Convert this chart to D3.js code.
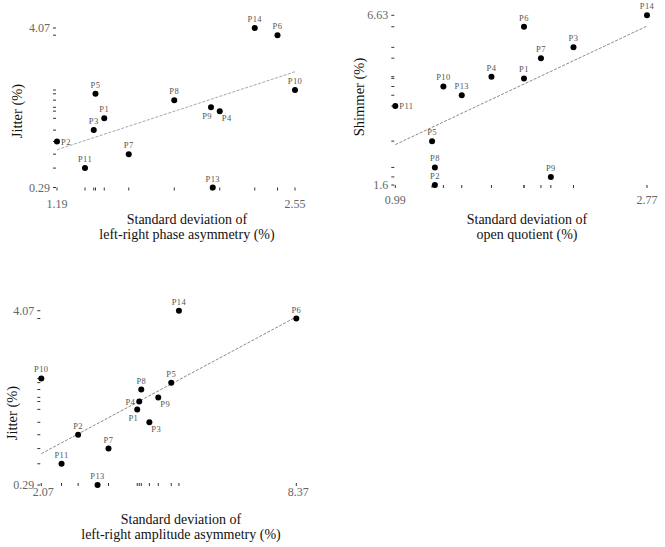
<!DOCTYPE html>
<html>
<head>
<meta charset="utf-8">
<script src="https://cdn.jsdelivr.net/npm/d3@7"></script>
<style>
  body { margin: 0; background: #fff; }
  svg { display: block; }
</style>
</head>
<body>
<svg width="665" height="547"></svg>
<script>
// Participants (P12 absent)
const participants = ["P1", "P2", "P3", "P4", "P5", "P6", "P7", "P8", "P9", "P10", "P11", "P13", "P14"];

// Measures per participant
const jitter  = [1.93, 1.38, 1.65, 2.10, 2.51, 3.90, 1.08, 2.36, 2.19, 2.60, 0.75, 0.29, 4.07];
const shimmer = [4.76, 1.60, 5.68, 4.81, 2.90, 6.29, 5.36, 2.12, 1.84, 4.52, 3.94, 4.26, 6.63];
const phaseSD = [1.46, 1.19, 1.40, 2.12, 1.41, 2.45, 1.60, 1.86, 2.07, 2.55, 1.35, 2.08, 2.32];
const oqSD    = [1.90, 1.27, 2.25, 1.67, 1.25, 1.90, 2.02, 1.27, 2.09, 1.33, 0.99, 1.46, 2.77];
const ampSD   = [4.44, 2.98, 4.74, 4.49, 5.28, 8.37, 3.73, 4.54, 4.96, 2.07, 2.57, 3.46, 5.47];

// Tick labels (only min and max are shown)
const xTicks1 = ["1.19", "2.55"];
const yTicks1 = ["0.29", "4.07"];
const xTicks2 = ["0.99", "2.77"];
const yTicks2 = ["1.6", "6.63"];
const xTicks3 = ["2.07", "8.37"];
const yTicks3 = ["0.29", "4.07"];

const svg = d3.select("svg");
const serif = "'Liberation Serif', 'Times New Roman', serif";

// one scatter panel
function panel(opt) {
    const pts = participants.map((p, i) => ({ id: p, x: opt.xs[i], y: opt.ys[i] }));
    const x = d3.scaleLinear().domain(d3.extent(opt.xs)).range(opt.xr);
    const y = d3.scaleLinear().domain(d3.extent(opt.ys)).range(opt.yr);
    const g = svg.append("g");

    // rug marks on the y side
    g.selectAll(".yrug").data(pts).join("line")
        .attr("x1", opt.xr[0] - 4).attr("x2", opt.xr[0] - 1)
        .attr("y1", d => y(d.y)).attr("y2", d => y(d.y))
        .attr("stroke", "#333").attr("stroke-width", 1);
    // rug marks on the x side
    g.selectAll(".xrug").data(pts).join("line")
        .attr("x1", d => x(d.x)).attr("x2", d => x(d.x))
        .attr("y1", opt.yr[0] + opt.rugOff).attr("y2", opt.yr[0] + opt.rugOff + 3)
        .attr("stroke", "#333").attr("stroke-width", 1);

    // least squares line
    const mx = d3.mean(opt.xs), my = d3.mean(opt.ys);
    const b = d3.sum(opt.xs, (v, i) => (v - mx) * (opt.ys[i] - my)) / d3.sum(opt.xs, v => (v - mx) ** 2);
    const a = my - b * mx;
    const [x0, x1] = x.domain();
    g.append("line")
        .attr("x1", x(x0)).attr("y1", y(a + b * x0))
        .attr("x2", x(x1)).attr("y2", y(a + b * x1))
        .attr("stroke", opt.lineColor).attr("stroke-width", 1)
        .attr("stroke-dasharray", "3,1.5");

    // points
    g.selectAll(".pt").data(pts).join("circle")
        .attr("cx", d => x(d.x)).attr("cy", d => y(d.y))
        .attr("r", 3).attr("fill", "#000");

    // point labels
    const place = opt.place || {};
    g.selectAll(".lbl").data(pts).join("text")
        .attr("font-family", serif).attr("font-size", 8.5).attr("fill", "#555")
        .attr("letter-spacing", 0.4)
        .each(function(d) {
            const t = d3.select(this), cx = x(d.x), cy = y(d.y);
            const p = place[d.id] || "t";
            if (p === "t") t.attr("x", cx).attr("y", cy - 6).attr("text-anchor", "middle");
            if (p === "r") t.attr("x", cx + 4).attr("y", cy + 3).attr("text-anchor", "start");
            if (p === "l") t.attr("x", cx - 4).attr("y", cy + 3).attr("text-anchor", "end");
            if (p === "bl") t.attr("x", cx + 1).attr("y", cy + 12).attr("text-anchor", "end");
            if (p === "br") t.attr("x", cx + 2).attr("y", cy + 10).attr("text-anchor", "start");
        })
        .text(d => d.id);

    // tick labels
    g.selectAll(".yt").data(opt.yTicks).join("text")
        .attr("x", opt.xr[0] - 7).attr("y", d => y(+d) + 4)
        .attr("text-anchor", "end")
        .attr("font-family", serif).attr("font-size", 12).attr("fill", "#666")
        .text(d => d);
    g.selectAll(".xt").data(opt.xTicks).join("text")
        .attr("x", d => x(+d) + opt.xtShift).attr("y", opt.yr[0] + opt.xtGap)
        .attr("text-anchor", "middle")
        .attr("font-family", serif).attr("font-size", 12).attr("fill", "#666")
        .text(d => d);

    // axis titles
    g.append("text")
        .attr("transform", `translate(${opt.ytPos[0]},${opt.ytPos[1]}) rotate(-90)`)
        .attr("text-anchor", "middle")
        .attr("font-family", serif).attr("font-size", 14.5).attr("fill", "#111")
        .text(opt.yTitle);
    opt.xTitle.forEach((line, i) => {
        g.append("text")
            .attr("x", opt.xtPos[0]).attr("y", opt.xtPos[1] + i * 15.5)
            .attr("text-anchor", "middle")
            .attr("font-family", serif).attr("font-size", 14).attr("fill", "#111")
            .text(line);
    });
}

panel({
    xs: phaseSD, ys: jitter, xr: [57, 295], yr: [187.5, 28],
    xTicks: xTicks1, yTicks: yTicks1, xtGap: 20, xtShift: 0, rugOff: 0, lineColor: "#a8a8a8",
    yTitle: "Jitter (%)", ytPos: [22, 111],
    xTitle: ["Standard deviation of", "left-right phase asymmetry (%)"], xtPos: [187, 223.5],
    place: { P2: "r", P9: "bl", P4: "br" }
});

panel({
    xs: oqSD, ys: shimmer, xr: [395.3, 647], yr: [185, 15.3],
    xTicks: xTicks2, yTicks: yTicks2, xtGap: 19, xtShift: 0, rugOff: 0, lineColor: "#8a8a8a",
    yTitle: "Shimmer (%)", ytPos: [364, 97],
    xTitle: ["Standard deviation of", "open quotient (%)"], xtPos: [527, 223.5],
    place: { P11: "r" }
});

panel({
    xs: ampSD, ys: jitter, xr: [41.3, 296.3], yr: [485, 310.7],
    xTicks: xTicks3, yTicks: yTicks3, xtGap: 11, xtShift: 2, rugOff: -2, lineColor: "#8a8a8a",
    yTitle: "Jitter (%)", ytPos: [17, 413],
    xTitle: ["Standard deviation of", "left-right amplitude asymmetry (%)"], xtPos: [181, 523.5],
    place: { P4: "l", P9: "br", P1: "bl", P3: "br" }
});
</script>
</body>
</html>
